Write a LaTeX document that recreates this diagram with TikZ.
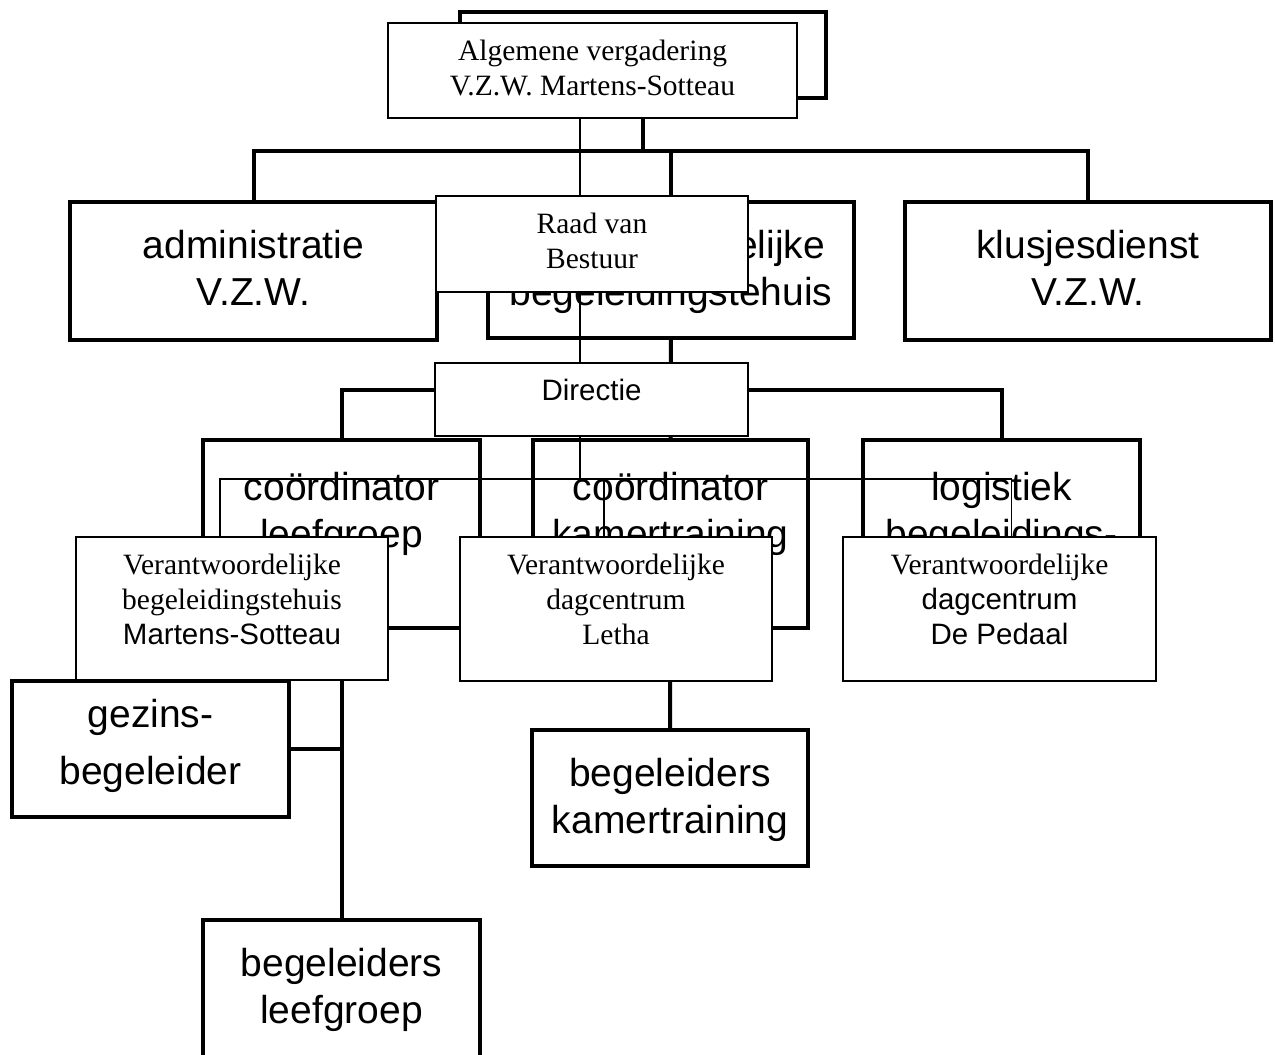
\documentclass[tikz,border=0pt]{standalone}
\usepackage{fontspec}
\setmainfont{Liberation Serif}
\setsansfont{Liberation Sans}
\usepackage{tikz}
% thick boxes of the old chart: name, x1, y1, x2, y2, text (optional: baseline below top)
\newcommand{\afdeling}[7][56]{
	\node [draw, fill=white, oldline, outer sep=0pt, inner sep=0pt, minimum width={(#5-#3)*1pt}, minimum height={(#6-#4)*1pt}] (#2) at ({(#3+#5)/2},{(#4+#6)/2}) {};
	\node [oldtext, anchor=north] at ([yshift={(32.9-#1)*1pt}]#2.north) {\strut #7};}
% thin boxes of the new chart
\newcommand{\functie}[6]{
	\node [draw, fill=white, newline, outer sep=0pt, inner sep=0pt, minimum width={(#4-#2)*1pt}, minimum height={(#5-#3)*1pt}] (#1) at ({(#2+#4)/2},{(#3+#5)/2}) {};
	\node [newtext, anchor=north] at ([yshift={(24.5-37)*1pt}]#1.north) {\strut #6};}

\begin{document}
\begin{tikzpicture}[x=1pt,y=-1pt,
	oldline/.style={line width=4pt},
	newline/.style={line width=1.6pt},
	oldtext/.style={font=\sffamily\fontsize{39}{47}\selectfont, align=center, inner sep=0pt},
	newtext/.style={font=\rmfamily\fontsize{29.5}{35}\selectfont, align=center, inner sep=0pt}]
	\useasboundingbox (0,0) rectangle (1275,1055);
	\clip (0,0) rectangle (1275,1055);
	% old chart
	\afdeling{achter}{460}{12}{826}{98}{}
	\afdeling{adm}{70}{202}{437}{340}{administratie\\ V.Z.W.}
	\afdeling{verbeg}{488}{202}{854}{338}{Verantwoordelijke\\ begeleidingstehuis}
	\afdeling{klus}{905}{202}{1271}{340}{klusjesdienst\\ V.Z.W.}
	\afdeling[60]{coleef}{203}{440}{480}{628}{coördinator\\ leefgroep}
	\afdeling[60]{cokamer}{533}{440}{808}{628}{coördinator\\ kamertraining}
	\afdeling[60]{logist}{863}{440}{1140}{628}{logistiek\\ begeleidings-}
	\afdeling[46]{gezin}{12}{681}{289}{817}{gezins-\\[10pt] begeleider}
	\afdeling{begkamer}{532}{730}{808}{866}{begeleiders\\ kamertraining}
	\afdeling{begleef}{203}{920}{480}{1070}{begeleiders\\ leefgroep}
	\coordinate (rij1) at (643,151);
	\coordinate (rij2) at (670,390);
	\draw [oldline] (achter.south) -- (rij1);
	\draw [oldline] (adm.north) |- (rij1) -| (klus.north);
	\draw [oldline] (rij1 -| verbeg.north) -- (verbeg.north);
	\draw [oldline] (verbeg.south) -- (cokamer.north);
	\draw [oldline] (coleef.north) |- (rij2) -| (logist.north);
	\draw [oldline] (coleef.south) -- (begleef.north);
	\draw [oldline] (gezin.east) -- (gezin.east -| coleef.south);
	\draw [oldline] (cokamer.south) -- (begkamer.north);
	% new chart
	\functie{alg}{388}{23}{797}{118}{Algemene vergadering\\ V.Z.W. Martens-Sotteau}
	\functie{raad}{436}{196}{748}{292}{Raad van\\ Bestuur}
	\functie{dir}{435}{363}{748}{436}{\sffamily Directie}
	\functie{vbeg}{76}{537}{388}{680}{Verantwoordelijke\\ begeleidingstehuis\\ {\sffamily Martens-Sotteau}}
	\functie{vletha}{460}{537}{772}{681}{Verantwoordelijke\\ dagcentrum\\ Letha}
	\functie{vpedaal}{843}{537}{1156}{681}{Verantwoordelijke\\ {\sffamily dagcentrum}\\ {\sffamily De Pedaal}}
	\coordinate (lijn) at (580,479);
	\coordinate (begtop) at ([xshift=-12pt]vbeg.north);
	\coordinate (lethatop) at ([xshift=-12pt]vletha.north);
	\coordinate (pedaaltop) at ([xshift=12pt]vpedaal.north);
	\draw [newline] (lijn |- alg.south) -- (lijn |- raad.north);
	\draw [newline] (lijn |- raad.south) -- (lijn |- dir.north);
	\draw [newline] (lijn |- dir.south) -- (lijn);
	\draw [newline] (begtop) |- (lijn) -| (pedaaltop);
	\draw [newline] (lethatop) -- (lethatop |- lijn);
\end{tikzpicture}
\end{document}
